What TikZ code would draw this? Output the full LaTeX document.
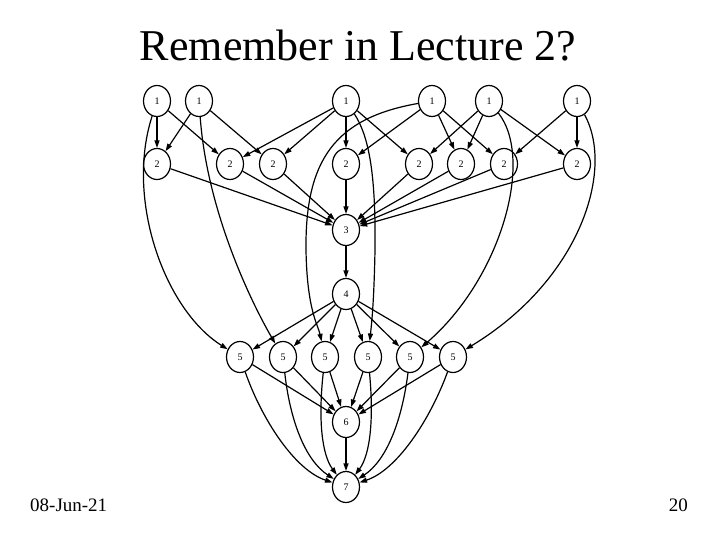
\documentclass[tikz,border=0pt]{standalone}
\usepackage{fontspec}
\setmainfont{Liberation Serif}
\usetikzlibrary{shapes.geometric,arrows.meta}
\begin{document}
\begin{tikzpicture}[x=1pt,y=-1pt,
  nd/.style={ellipse,draw,line width=1.2pt,minimum width=27pt,minimum height=31pt,inner sep=0pt,font=\fontsize{10}{10}\selectfont},
  ar/.style={line width=1.2pt,-{Triangle[length=7.5pt,width=5pt]}},
  lbl/.style={inner sep=0pt}]
\useasboundingbox (0,0) rectangle (720,540);
\node[lbl,font=\fontsize{44}{44}\selectfont] (title) at (358,46) {Remember in Lecture 2?};
\node[lbl,font=\fontsize{19}{19}\selectfont,anchor=west] (date) at (30,505) {08-Jun-21};
\node[lbl,font=\fontsize{19}{19}\selectfont,anchor=east] (page) at (688,505) {20};
% row 1
\foreach \n/\x in {t1/157,t2/199,t3/346,t4/432,t5/489,t6/577} \node[nd] (\n) at (\x,101) {1};
% row 2
\foreach \n/\x in {s1/157,s2/230,s3/273,s4/346,s5/419,s6/461,s7/504,s8/577} \node[nd] (\n) at (\x,164) {2};
\node[nd] (n3) at (346,230) {3};
\node[nd] (n4) at (346,294) {4};
\foreach \n/\x in {f1/240,f2/283,f3/325,f4/368,f5/410,f6/453} \node[nd] (\n) at (\x,357) {5};
\node[nd] (n6) at (346,422) {6};
\node[nd] (n7) at (346,487) {7};
% 1 -> 2
\foreach \a/\b in {t1/s1,t1/s2,t2/s1,t2/s3,t3/s2,t3/s3,t3/s4,t3/s5,t4/s4,t4/s6,t4/s7,t5/s5,t5/s6,t5/s8,t6/s7,t6/s8}
  \draw[ar] (\a) -- (\b);
% 2 -> 3
\foreach \a in {s1,s2,s3,s4,s5,s6,s7,s8} \draw[ar] (\a) -- (n3);
\draw[ar] (n3) -- (n4);
% 4 -> 5
\foreach \b in {f1,f2,f3,f4,f5,f6} \draw[ar] (n4) -- (\b);
% 5 -> 6
\foreach \a in {f1,f2,f3,f4,f5,f6} \draw[ar] (\a) -- (n6);
\draw[ar] (n6) -- (n7);
% 5 -> 7 curves
\draw[ar] (f1) .. controls (262,420) and (295,470) .. (n7);
\draw[ar] (f2) .. controls (290,420) and (305,460) .. (n7);
\draw[ar] (f3) .. controls (318,420) and (322,455) .. (n7);
\draw[ar] (f4) .. controls (374,420) and (370,455) .. (n7);
\draw[ar] (f5) .. controls (402,420) and (387,460) .. (n7);
\draw[ar] (f6) .. controls (430,420) and (397,470) .. (n7);
% 1 -> 5 curves
\draw[ar] (t1) .. controls (125,200) and (165,310) .. (f1);
\draw[ar] (t2) .. controls (207,210) and (250,300) .. (f2);
\draw[ar] (t4) .. controls (335,118) and (305,160) .. (306,250) .. controls (307,310) and (318,325) .. (f3);
\draw[ar] (t3) .. controls (368,135) and (376,170) .. (375,250) .. controls (374,300) and (372,320) .. (f4);
\draw[ar] (t5) .. controls (535,160) and (500,280) .. (f5);
\draw[ar] (t6) .. controls (615,170) and (580,280) .. (f6);
\end{tikzpicture}
\end{document}
